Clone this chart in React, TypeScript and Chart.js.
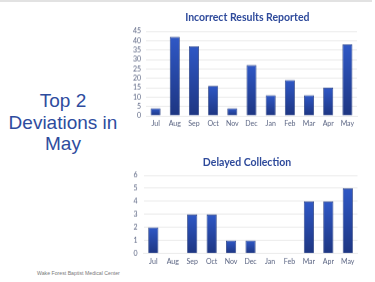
import React, { useEffect, useRef } from "react";
import { Chart, registerables } from "chart.js";

Chart.register(...registerables);

const months = ["Jul", "Aug", "Sep", "Oct", "Nov", "Dec", "Jan", "Feb", "Mar", "Apr", "May"];
const incorrectResults = [4, 42, 37, 16, 4, 27, 11, 19, 11, 15, 38];
const delayedCollection = [2, 0, 3, 3, 1, 1, 0, 0, 4, 4, 5];
const titleIncorrect = "Incorrect Results Reported";
const titleDelayed = "Delayed Collection";
const headline = ["Top 2", "Deviations in", "May"];
const footer = "Wake Forest Baptist Medical Center";

const TITLE_COLOR = "#2E4A9B";
const TICK_COLOR = "#5a6482";
const GRID_COLOR = "#ebebeb";

function barGradient(context: any) {
  const chart = context.chart;
  const y = chart.scales.y;
  if (!y || context.type !== "data") return "#2A4FB5";
  const v = context.parsed ? context.parsed.y : 0;
  const top = y.getPixelForValue(v);
  const bottom = y.getPixelForValue(0);
  if (!isFinite(top) || !isFinite(bottom) || top === bottom) return "#2A4FB5";
  const g = chart.ctx.createLinearGradient(0, top, 0, bottom);
  g.addColorStop(0, "#2F58C6");
  g.addColorStop(1, "#1E3682");
  return g;
}

function makeConfig(
  data: number[],
  max: number,
  step: number,
  axisWidth: number,
  tickPad: number,
  padding: any
): any {
  return {
    type: "bar",
    data: {
      labels: months,
      datasets: [
        {
          data,
          backgroundColor: barGradient,
          borderColor: "#1B3379",
          borderWidth: 0.8,
          barPercentage: 0.55,
          categoryPercentage: 0.95,
        },
      ],
    },
    options: {
      responsive: false,
      animation: false,
      layout: { padding },
      plugins: {
        legend: { display: false },
        tooltip: { enabled: false },
        title: { display: false },
      },
      scales: {
        x: {
          grid: { display: false, drawTicks: false },
          border: { display: true, color: GRID_COLOR, width: 1 },
          ticks: {
            color: TICK_COLOR,
            font: { family: "Lato", size: 7 },
            padding: 4,
            maxRotation: 0,
            autoSkip: false,
          },
        },
        y: {
          min: 0,
          max,
          grid: { color: GRID_COLOR, drawTicks: false, lineWidth: 1 },
          border: { display: false },
          ticks: {
            stepSize: step,
            autoSkip: false,
            color: TICK_COLOR,
            font: { family: "Lato", size: 7 },
            padding: tickPad,
          },
          afterFit: (scale: any) => {
            scale.width = axisWidth;
          },
        },
      },
    },
  };
}

function BarChart(props: {
  config: any;
  left: number;
  top: number;
  width: number;
  height: number;
}) {
  const ref = useRef<HTMLCanvasElement | null>(null);
  useEffect(() => {
    if (!ref.current) return;
    const chart = new Chart(ref.current, props.config);
    return () => chart.destroy();
  }, []);
  return (
    <canvas
      ref={ref}
      width={props.width}
      height={props.height}
      style={{
        position: "absolute",
        left: props.left,
        top: props.top,
        width: props.width,
        height: props.height,
      }}
    />
  );
}

const titleStyle = (centerX: number, centerY: number): React.CSSProperties => ({
  position: "absolute",
  left: centerX - 100,
  top: centerY - 6.5,
  width: 200,
  textAlign: "center",
  fontFamily: "Lato, sans-serif",
  fontWeight: "bold",
  fontSize: 10.5,
  lineHeight: "13px",
  color: TITLE_COLOR,
  whiteSpace: "nowrap",
});

export default function App() {
  useEffect(() => {
    document.body.style.margin = "0";
  }, []);

  const cfg1 = makeConfig(incorrectResults, 45, 5, 16, 5, {
    left: 5,
    right: 13,
    top: 31,
    bottom: 3.6,
  });
  const cfg2 = makeConfig(delayedCollection, 6, 1, 16, 6, {
    left: 2.6,
    right: 12.5,
    top: 35,
    bottom: 0.9,
  });

  return (
    <div
      style={{
        position: "absolute",
        left: 0,
        top: 0,
        width: 375,
        height: 282,
        background: "#ffffff",
        overflow: "hidden",
      }}
    >
      <div
        style={{
          position: "absolute",
          left: 0,
          top: 0,
          width: 372,
          height: 1.5,
          background: "#e2e2e2",
        }}
      />
      <div
        style={{
          position: "absolute",
          left: 0,
          top: 90,
          width: 126,
          textAlign: "center",
          fontFamily: "'Liberation Sans', Arial, sans-serif",
          fontSize: 19,
          lineHeight: "21.7px",
          color: "#2E4C9E",
        }}
      >
        {headline.map((l, i) => (
          <div key={i}>{l}</div>
        ))}
      </div>
      <BarChart config={cfg1} left={125} top={0} width={245} height={135.5} />
      <BarChart config={cfg2} left={125} top={140} width={245} height={130.5} />
      <div style={titleStyle(247.3, 17.5)}>{titleIncorrect}</div>
      <div style={titleStyle(247, 162)}>{titleDelayed}</div>
      <div
        style={{
          position: "absolute",
          left: 37,
          top: 269.5,
          fontFamily: "'Liberation Sans', Arial, sans-serif",
          fontSize: 5.2,
          color: "#7a7a7a",
          whiteSpace: "nowrap",
        }}
      >
        {footer}
      </div>
    </div>
  );
}
